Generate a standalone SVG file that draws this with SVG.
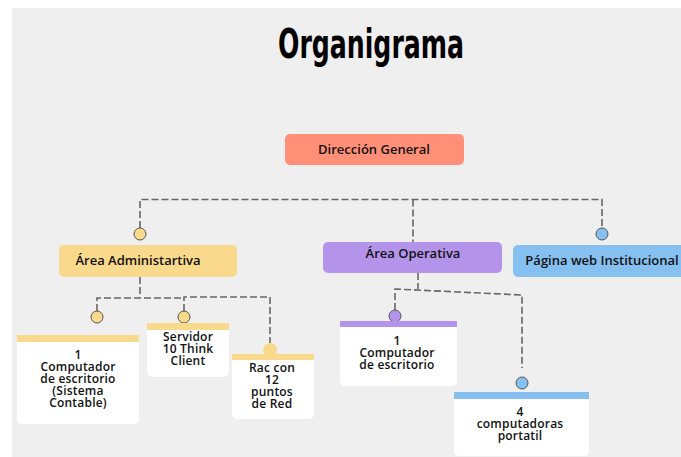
<svg xmlns="http://www.w3.org/2000/svg" width="681" height="457" viewBox="0 0 681 457">
  <style>
    .lbl { font-family: "Open Sans", "Noto Sans", sans-serif; font-weight: 600; font-size: 13px; fill: #111; text-anchor: middle; }
    .sm { font-family: "Open Sans", "Noto Sans", sans-serif; font-weight: 600; font-size: 12px; letter-spacing: 0.2px; fill: #111; text-anchor: middle; }
    .link { fill: none; stroke: #666; stroke-width: 1.6; stroke-dasharray: 7 3; }
    .dot { stroke: #555; stroke-width: 1; }
    .card { fill: #ffffff; }
  </style>
  <rect x="0" y="0" width="681" height="457" fill="#ffffff"/>
  <rect x="12" y="8" width="669" height="449" fill="#efefef"/>

  <text x="371" y="58" font-family="'Liberation Sans Narrow', 'DejaVu Sans Condensed', sans-serif" font-weight="bold" font-size="41" text-anchor="middle" textLength="186" lengthAdjust="spacingAndGlyphs" fill="#000">Organigrama</text>

  <g id="connectors">
    <path class="link" d="M140 228 V199.5 H602 V228"/>
    <path class="link" d="M413 199.5 V242"/>
    <path class="link" d="M140 277 V298 M97 311 V298 H184 M184 311 V297 H270 V343"/>
    <path class="link" d="M418 273 V289 M395 310 V289 L522 295 V368"/>
  </g>

  <g id="direccion-general">
    <rect x="285" y="134" width="179" height="31" rx="5" fill="#ff8f76"/>
    <text class="lbl" x="374" y="154">Dirección General</text>
  </g>

  <g id="area-administrativa">
    <circle class="dot" cx="140" cy="234" r="6" fill="#f9d98b"/>
    <rect x="59" y="245" width="178" height="32" rx="5" fill="#f9d98b"/>
    <text class="lbl" x="138" y="265">Área Administartiva</text>
  </g>

  <g id="area-operativa">
    <rect x="323" y="242" width="179" height="31" rx="5" fill="#b394ea"/>
    <text class="lbl" x="413" y="258">Área Operativa</text>
  </g>

  <g id="pagina-web">
    <circle class="dot" cx="602" cy="234" r="6" fill="#85c0f0"/>
    <rect x="513" y="245" width="180" height="32" rx="5" fill="#85c0f0"/>
    <text class="lbl" x="602" y="265">Página web Institucional</text>
  </g>

  <g id="computador-contable">
    <circle class="dot" cx="97" cy="317" r="6" fill="#f9d98b"/>
    <rect class="card" x="17" y="335" width="122" height="89" rx="5"/>
    <rect x="17" y="335" width="122" height="7" fill="#f9d98b"/>
    <text class="sm" x="78" y="359">1</text>
    <text class="sm" x="78" y="371">Computador</text>
    <text class="sm" x="78" y="383">de escritorio</text>
    <text class="sm" x="78" y="395">(Sistema</text>
    <text class="sm" x="78" y="407">Contable)</text>
  </g>

  <g id="servidor">
    <circle class="dot" cx="184" cy="317" r="6" fill="#f9d98b"/>
    <rect class="card" x="147" y="323" width="82" height="54" rx="5"/>
    <rect x="147" y="323" width="82" height="7" fill="#f9d98b"/>
    <text class="sm" x="188" y="341">Servidor</text>
    <text class="sm" x="188" y="353">10 Think</text>
    <text class="sm" x="188" y="365">Client</text>
  </g>

  <g id="rac">
    <circle cx="270" cy="350" r="7" fill="#f9d98b"/>
    <rect class="card" x="232" y="354" width="82" height="65" rx="5"/>
    <rect x="232" y="354" width="82" height="6" fill="#f9d98b"/>
    <text class="sm" x="272" y="372">Rac con</text>
    <text class="sm" x="272" y="384">12</text>
    <text class="sm" x="272" y="396">puntos</text>
    <text class="sm" x="272" y="408">de Red</text>
  </g>

  <g id="computador-operativa">
    <circle class="dot" cx="395" cy="316" r="6" fill="#b394ea"/>
    <rect class="card" x="340" y="321" width="117" height="65" rx="5"/>
    <rect x="340" y="321" width="117" height="6" fill="#b394ea"/>
    <text class="sm" x="397" y="345">1</text>
    <text class="sm" x="397" y="357">Computador</text>
    <text class="sm" x="397" y="369">de escritorio</text>
  </g>

  <g id="portatiles">
    <circle class="dot" cx="522" cy="383" r="6" fill="#85c0f0"/>
    <rect class="card" x="454" y="392" width="135" height="64" rx="5"/>
    <rect x="454" y="392" width="135" height="7" fill="#85c0f0"/>
    <text class="sm" x="520" y="416">4</text>
    <text class="sm" x="520" y="428">computadoras</text>
    <text class="sm" x="520" y="440">portatil</text>
  </g>
</svg>
